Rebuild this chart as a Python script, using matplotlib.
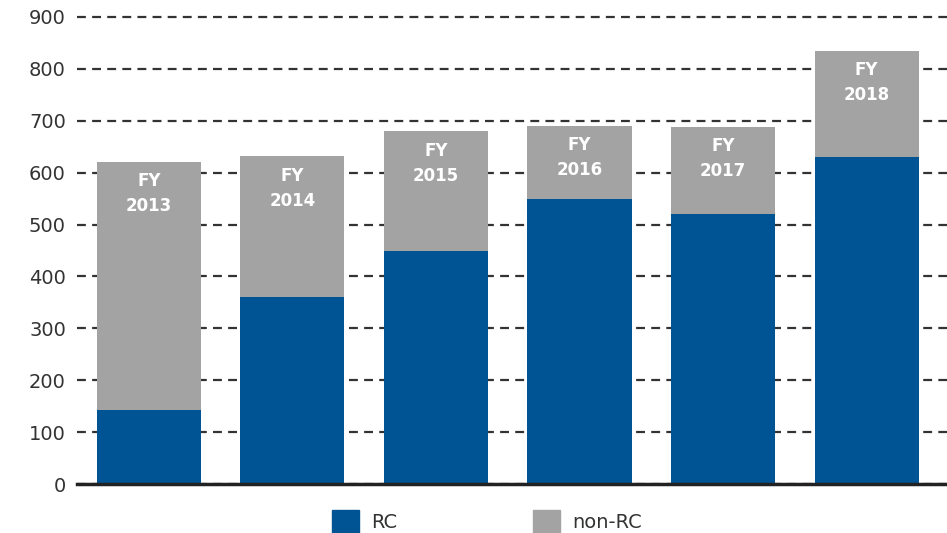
import matplotlib
matplotlib.use("Agg")
import matplotlib.pyplot as plt
from matplotlib.patches import Patch

years = ["2013", "2014", "2015", "2016", "2017", "2018"]
rc = [143, 360, 450, 550, 520, 631]
total = [621, 632, 680, 690, 688, 835]
non_rc = [t - r for t, r in zip(total, rc)]

BLUE = "#005493"
GRAY = "#a3a3a3"

fig = plt.figure(figsize=(9.47, 5.33), dpi=100)
ax = fig.add_axes([77/947, 1 - 484/533, 870/947, (484 - 17)/533])

x = list(range(len(years)))
ax.bar(x, rc, width=0.725, color=BLUE, zorder=3)
ax.bar(x, non_rc, bottom=rc, width=0.725, color=GRAY, zorder=3)

for xi, t, y in zip(x, total, years):
    ax.annotate(f"FY\n{y}", xy=(xi, t), xytext=(0, -23), textcoords="offset points",
                ha="center", va="center", color="white", fontsize=12,
                fontweight="bold", linespacing=1.5, zorder=4)

ax.set_ylim(0, 900)
ax.set_xlim(-0.5, 5.56)
ax.set_yticks(range(0, 901, 100))
ax.set_xticks([])
ax.yaxis.grid(True, linestyle=(0, (4, 2.8)), color="#333333", linewidth=1.6, zorder=1)
for gl in ax.get_ygridlines():
    gl.set_clip_on(False)
ax.tick_params(axis="y", length=0, pad=8, labelsize=14, labelcolor="#333333")
for s in ["top", "right", "left"]:
    ax.spines[s].set_visible(False)
ax.spines["bottom"].set_linewidth(2.5)
ax.spines["bottom"].set_color("#222222")
ax.spines["bottom"].set_zorder(5)

handles = [Patch(color=BLUE, label="RC"), Patch(color=GRAY, label="non-RC")]
fig.legend(handles=handles, loc="lower center", bbox_to_anchor=(0.514, -0.032), ncol=2,
           frameon=False, fontsize=14, handlelength=1.4, handleheight=1.4,
           columnspacing=7, handletextpad=0.6, labelcolor="#333333")

fig.savefig("out.png", dpi=100)
